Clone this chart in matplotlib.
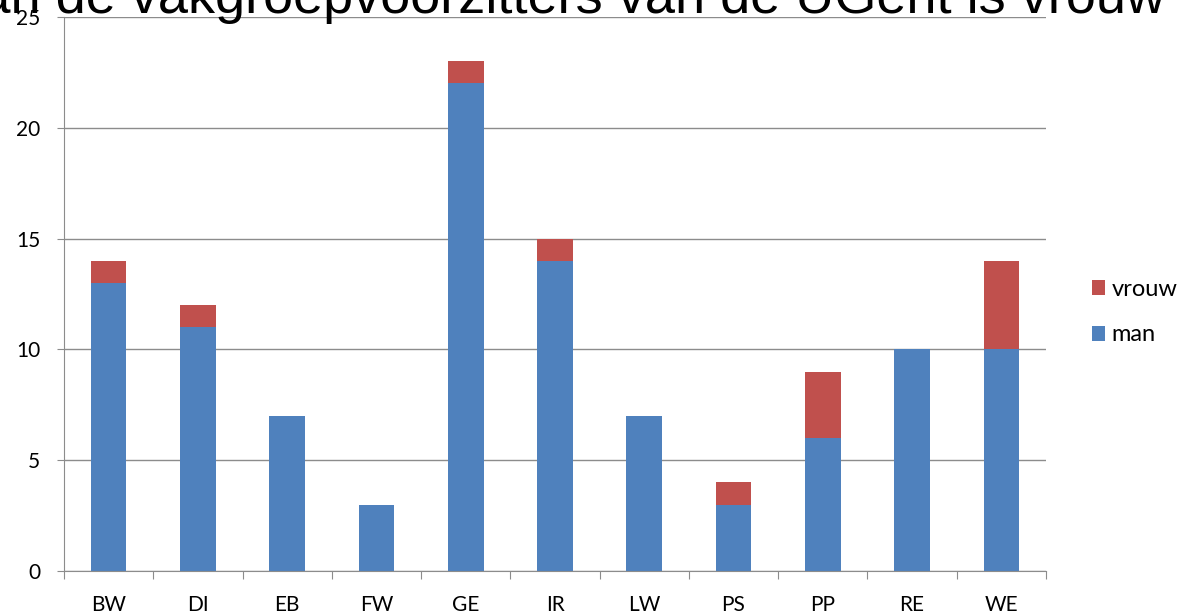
import matplotlib
matplotlib.use("Agg")
import matplotlib.pyplot as plt
import numpy as np

categories = ['BW', 'DI', 'EB', 'FW', 'GE', 'IR', 'LW', 'PS', 'PP', 'RE', 'WE']
man = [13, 11, 7, 3, 22, 14, 7, 3, 6, 10, 10]
vrouw = [1, 1, 0, 0, 1, 1, 0, 1, 3, 0, 4]
title = '10% van de vakgroepvoorzitters van de UGent is vrouw'

blue = '#4F81BD'
red = '#C0504D'
grid_c = '#8C8C8C'

fig = plt.figure(figsize=(11.8, 6.16), dpi=100)
ax = fig.add_axes([64/1180, 1 - 571/616, (1046-64)/1180, (571-17)/616])

x = np.arange(len(categories))
ax.bar(x, man, width=0.4, color=blue, label='man', zorder=2)
ax.bar(x, vrouw, width=0.4, bottom=man, color=red, label='vrouw', zorder=2)

ax.set_xlim(-0.5, len(categories) - 0.5)
ax.set_ylim(0, 25)
ax.set_yticks([0, 5, 10, 15, 20, 25])
ax.set_xticks(np.arange(-0.5, len(categories), 1))
ax.set_xticklabels([])
ax.set_xticks(x, minor=True)
ax.set_xticklabels(categories, minor=True)
ax.tick_params(axis='x', which='minor', length=0, pad=17, labelsize=15)
ax.tick_params(axis='x', which='major', length=6, color=grid_c, direction='out')
ax.tick_params(axis='y', length=5, color=grid_c, labelsize=15, pad=12)
for lab in ax.get_xticklabels(minor=True) + ax.get_yticklabels():
    lab.set_family('Lato')

ax.yaxis.grid(True, color=grid_c, linewidth=1, zorder=0)
ax.set_axisbelow(True)
for s in ['top', 'right']:
    ax.spines[s].set_visible(False)
for s in ['left', 'bottom']:
    ax.spines[s].set_color(grid_c)

handles, labels = ax.get_legend_handles_labels()
leg = fig.legend(handles[::-1], labels[::-1], loc='center left',
                 bbox_to_anchor=(1080/1180, 1 - 312/616), frameon=False,
                 prop={'family': 'Lato', 'size': 17}, handlelength=0.55,
                 handleheight=0.6, handletextpad=0.3, labelspacing=1.05,
                 borderpad=0.3, borderaxespad=0.2)

fig.text(1165/1180, 1 - 13/616, title, ha='right', va='baseline',
         fontsize=39, family='Liberation Sans')

fig.savefig('out.png', dpi=100)
